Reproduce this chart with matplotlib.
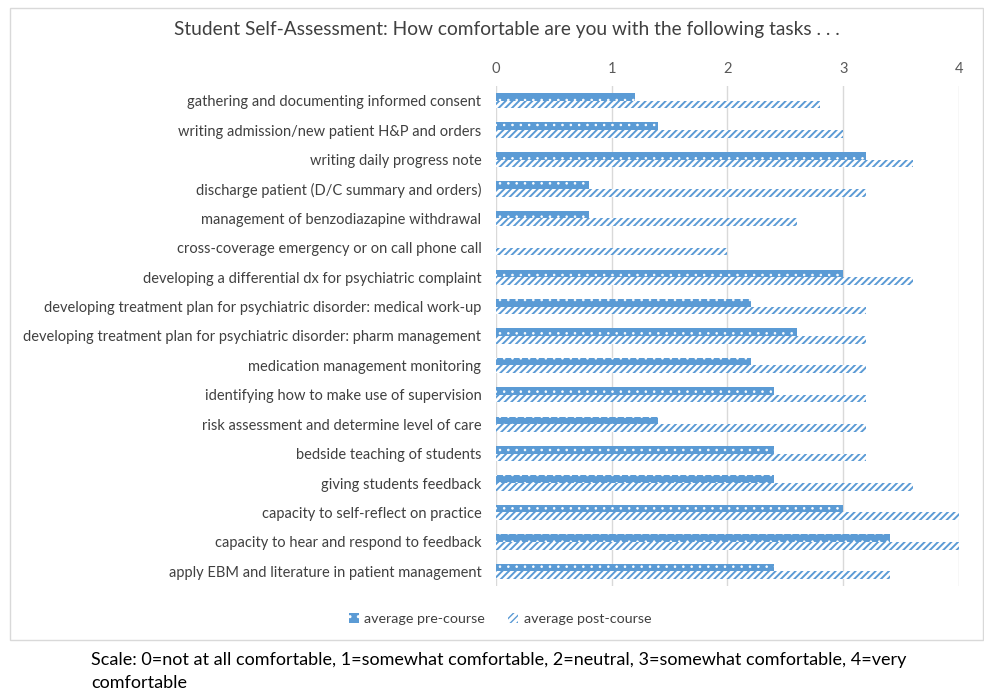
import matplotlib
import matplotlib.pyplot as plt
from matplotlib.patches import Rectangle
import numpy as np

matplotlib.rc("font", family="Lato", size=10.5)

tasks = [
    "gathering and documenting informed consent",
    "writing admission/new patient H&P and orders",
    "writing daily progress note",
    "discharge patient (D/C summary and orders)",
    "management of benzodiazapine withdrawal",
    "cross-coverage emergency or on call phone call",
    "developing a differential dx for psychiatric complaint",
    "developing treatment plan for psychiatric disorder: medical work-up",
    "developing treatment plan for psychiatric disorder: pharm management",
    "medication management monitoring",
    "identifying how to make use of supervision",
    "risk assessment and determine level of care",
    "bedside teaching of students",
    "giving students feedback",
    "capacity to self-reflect on practice",
    "capacity to hear and respond to feedback",
    "apply EBM and literature in patient management",
]
pre_course = [1.2, 1.4, 3.2, 0.8, 0.8, 0.0, 3.0, 2.2, 2.6, 2.2, 2.4, 1.4, 2.4, 2.4, 3.0, 3.4, 2.4]
post_course = [2.8, 3.0, 3.6, 3.2, 2.6, 2.0, 3.6, 3.2, 3.2, 3.2, 3.2, 3.2, 3.2, 3.6, 4.0, 4.0, 3.4]

blue = "#5B9BD5"
text_grey = "#404040"

fig = plt.figure(figsize=(9.84, 6.91), dpi=100)
ax = fig.add_axes([0.504, 0.152, 0.4706, 0.7235])

idx = np.arange(len(tasks))
h = 0.26
with plt.rc_context({"hatch.linewidth": 0.6}):
    ax.barh(idx - h / 2, pre_course, h, color=blue, edgecolor="white", linewidth=0,
            hatch="..", label="average pre-course", zorder=3)
with plt.rc_context({"hatch.linewidth": 1.4}):
    ax.barh(idx + h / 2, post_course, h, color="white", edgecolor=blue, linewidth=0,
            hatch="/////", label="average post-course", zorder=3)

ax.set_xlim(0, 4)
ax.set_ylim(len(tasks) - 0.5, -0.5)
ax.set_xticks([0, 1, 2, 3, 4])
ax.set_yticks(idx)
ax.set_yticklabels(tasks, color=text_grey)
ax.xaxis.tick_top()
ax.tick_params(axis="x", length=0, pad=7.5, colors="#595959")
ax.tick_params(axis="y", length=0, pad=10.5)
ax.grid(axis="x", color="#D9D9D9", linewidth=1, zorder=0)
for s in ax.spines.values():
    s.set_visible(False)

fig.text(0.515, 1 - 30 / 691, "Student Self-Assessment: How comfortable are you with the following tasks . . .",
         ha="center", va="center", fontsize=13.8, color=text_grey)

leg = fig.legend(loc="center", bbox_to_anchor=(0.508, 0.104), ncol=2, frameon=False,
                 handlelength=0.7, handleheight=0.7, columnspacing=1.6, handletextpad=0.4,
                 labelcolor=text_grey, fontsize=10.3)

fig.patches.append(Rectangle((10 / 984, 1 - 640 / 691), 973 / 984, 632 / 691,
                             transform=fig.transFigure, fill=False,
                             edgecolor="#D9D9D9", linewidth=1))

fig.text(91 / 984, 1 - 660 / 691,
         "Scale: 0=not at all comfortable, 1=somewhat comfortable, 2=neutral, 3=somewhat comfortable, 4=very",
         ha="left", va="center", fontsize=13, color="black")
fig.text(91 / 984, 1 - 683 / 691, "comfortable", ha="left", va="center", fontsize=13, color="black")

plt.savefig("out.png", dpi=100)
